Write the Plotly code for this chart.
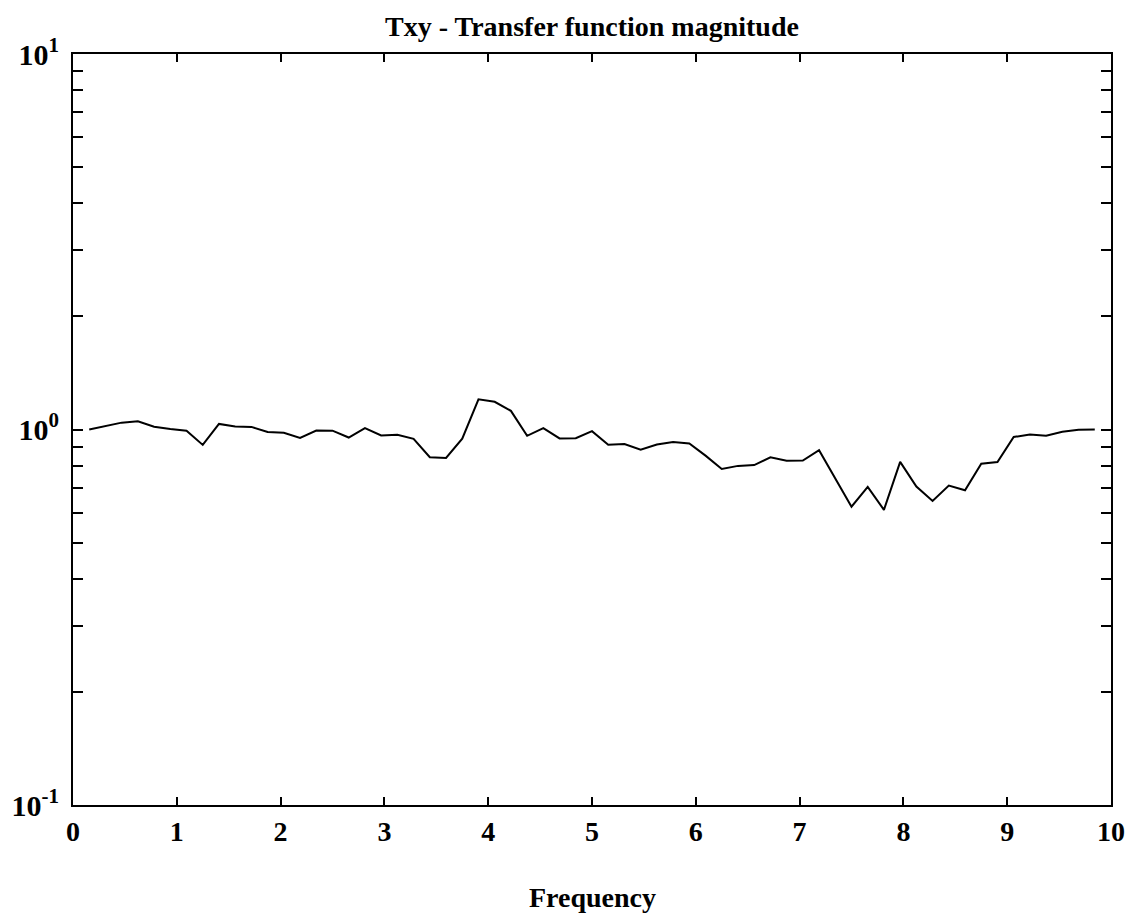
import plotly.graph_objects as go

# frequency bins (spacing 0.15625) and transfer function magnitude
freq = [k * 0.15625 for k in range(1, 64)]
magnitude = [
    1.000, 1.021, 1.043, 1.052, 1.017, 1.003, 0.993, 0.910, 1.035, 1.019,
    1.016, 0.985, 0.980, 0.950, 0.994, 0.993, 0.952, 1.008, 0.964, 0.968,
    0.944, 0.844, 0.840, 0.945, 1.203, 1.185, 1.121, 0.962, 1.009, 0.947,
    0.948, 0.990, 0.911, 0.915, 0.884, 0.912, 0.926, 0.918, 0.852, 0.785,
    0.800, 0.804, 0.843, 0.826, 0.827, 0.881, 0.742, 0.623, 0.703, 0.611,
    0.820, 0.705, 0.645, 0.709, 0.689, 0.811, 0.819, 0.955, 0.970, 0.962,
    0.986, 0.999, 1.000,
]

x_ticks = list(range(0, 11))
y_major_vals = [0.1, 1.0, 10.0]
y_major_text = ["10<sup>-1</sup>", "10<sup>0</sup>", "10<sup>1</sup>"]
y_minor_vals = [0.1 * m for m in range(2, 10)] + [1.0 * m for m in range(2, 10)]

title_text = "Txy - Transfer function magnitude"
x_label = "Frequency"

FONT = "Liberation Serif"

fig = go.Figure()
fig.add_trace(go.Scatter(
    x=freq, y=magnitude, mode="lines",
    line=dict(color="black", width=2),
    showlegend=False, hoverinfo="skip",
))

fig.update_layout(
    width=1136, height=917,
    margin=dict(l=73, r=25, t=54, b=112),
    paper_bgcolor="white", plot_bgcolor="white",
    font=dict(family=FONT, color="black"),
    title=dict(
        text=title_text, x=0.5, xref="paper", xanchor="center",
        y=(917 - 26) / 917, yref="container", yanchor="middle",
        font=dict(family=FONT, size=28, color="black", weight="bold"),
    ),
)

fig.add_annotation(
    text=x_label, xref="paper", yref="paper", x=0.5, y=(805 - 897) / 751,
    xanchor="center", yanchor="middle", showarrow=False,
    font=dict(family=FONT, size=28, color="black", weight="bold"),
)

fig.update_xaxes(
    range=[0, 10], tickvals=x_ticks, ticktext=[str(v) for v in x_ticks],
    ticks="inside", ticklen=8, tickwidth=2, tickcolor="black",
    showline=True, linecolor="black", linewidth=2, mirror="ticks",
    showgrid=False, zeroline=False, automargin=False,
    tickfont=dict(family=FONT, size=28, color="black", weight="bold"),
)

fig.update_yaxes(
    type="log", range=[-1, 1], tickvals=y_major_vals, ticktext=y_major_text,
    ticks="inside", ticklen=10, tickwidth=2, tickcolor="black",
    minor=dict(tickvals=y_minor_vals, ticks="inside", ticklen=10,
               tickwidth=2, tickcolor="black", showgrid=False),
    showline=True, linecolor="black", linewidth=2, mirror="ticks",
    showgrid=False, zeroline=False, ticklabelstandoff=6, automargin=False,
    tickfont=dict(family=FONT, size=30, color="black", weight="bold"),
)

fig.write_html("out.html")
